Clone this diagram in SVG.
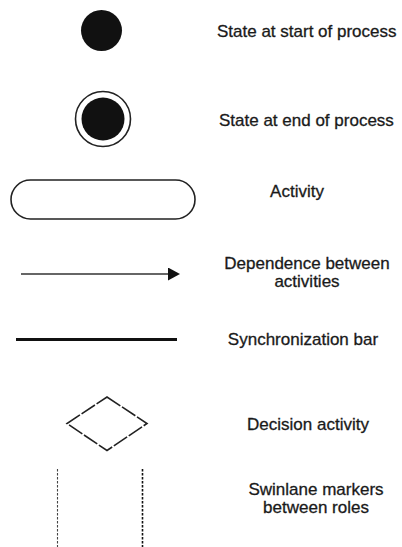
<svg xmlns="http://www.w3.org/2000/svg" width="402" height="547" viewBox="0 0 402 547">
  <defs>
    <style>
      .lbl { font-family: "Liberation Sans", Arial, sans-serif; font-size: 17px; fill: #1a1a1a; stroke: #1a1a1a; stroke-width: 0.3; }
      .mid { text-anchor: middle; }
      .solid { fill: #111; }
      .outline { fill: none; stroke: #222; stroke-width: 1.6; }
    </style>
    <marker id="arrowhead" viewBox="0 0 12 13" refX="0" refY="6.5" markerWidth="12" markerHeight="13" markerUnits="userSpaceOnUse" orient="auto">
      <path d="M0,0 L12,6.5 L0,13 Z" fill="#111"/>
    </marker>
  </defs>
  <rect width="402" height="547" fill="#fff"/>

  <g id="start-state">
    <circle class="solid" cx="101.5" cy="30.5" r="20.5"/>
    <text class="lbl" x="217" y="37">State at start of process</text>
  </g>

  <g id="end-state">
    <circle class="outline" cx="103" cy="119" r="27.5"/>
    <circle class="solid" cx="103" cy="119" r="21.5"/>
    <text class="lbl" x="219" y="126">State at end of process</text>
  </g>

  <g id="activity">
    <rect class="outline" x="11" y="180" width="184" height="39" rx="19.5" ry="19.5"/>
    <text class="lbl mid" x="297" y="197">Activity</text>
  </g>

  <g id="connectors">
    <line x1="21" y1="274" x2="168" y2="274" stroke="#333" stroke-width="1.3" marker-end="url(#arrowhead)"/>
  </g>

  <g id="dependence">
    <text class="lbl mid" x="307" y="269">Dependence between</text>
    <text class="lbl mid" x="307" y="287">activities</text>
  </g>

  <g id="sync-bar">
    <line x1="16" y1="339.5" x2="177" y2="339.5" stroke="#111" stroke-width="3"/>
    <text class="lbl mid" x="303" y="345">Synchronization bar</text>
  </g>

  <g id="decision">
    <polygon class="outline" points="107,397 147,423.5 107,450.5 67,423.5" stroke-dasharray="16 2"/>
    <text class="lbl mid" x="308" y="430">Decision activity</text>
  </g>

  <g id="swimlanes">
    <line x1="57.5" y1="469" x2="57.5" y2="547" stroke="#444" stroke-width="1.1" stroke-dasharray="2.5 1.5"/>
    <line x1="142.5" y1="469" x2="142.5" y2="547" stroke="#111" stroke-width="1.6" stroke-dasharray="2.5 1.5"/>
    <text class="lbl mid" x="316" y="495">Swinlane markers</text>
    <text class="lbl mid" x="316" y="513">between roles</text>
  </g>
</svg>
